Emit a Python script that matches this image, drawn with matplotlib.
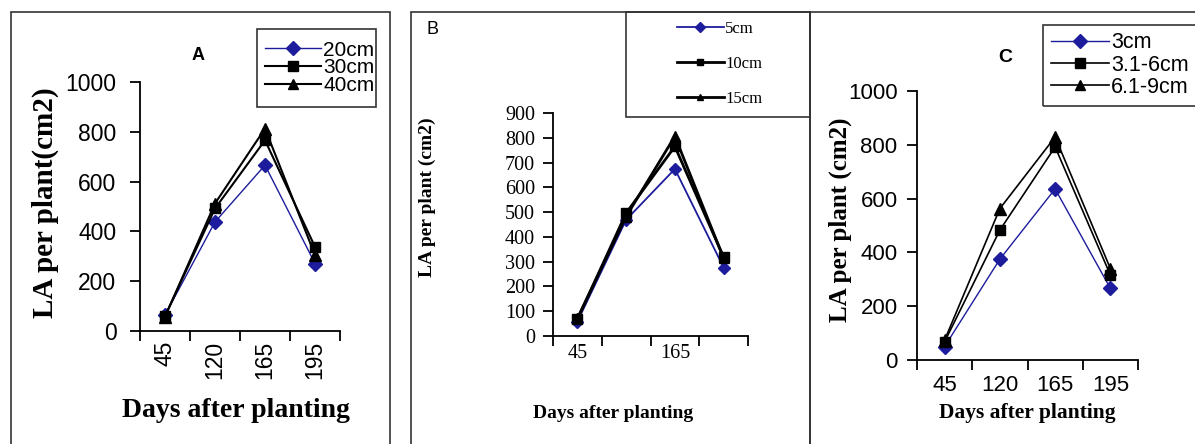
import matplotlib
matplotlib.use("Agg")
import matplotlib.pyplot as plt
from matplotlib.patches import Rectangle
from matplotlib.lines import Line2D

W, H = 1195, 444

days = ["45", "120", "165", "195"]
days_b = ["45", "", "165", ""]

# panel A: row spacing
a_labels = ["20cm", "30cm", "40cm"]
a_20 = [64, 438, 666, 271]
a_30 = [60, 492, 766, 338]
a_40 = [57, 512, 813, 305]

# panel B: plant spacing
b_labels = ["5cm", "10cm", "15cm"]
b_5 = [58, 469, 674, 276]
b_10 = [67, 496, 765, 318]
b_15 = [71, 482, 806, 314]

# panel C: sett size
c_labels = ["3cm", "3.1-6cm", "6.1-9cm"]
c_3 = [50, 375, 636, 266]
c_36 = [68, 483, 792, 316]
c_69 = [74, 563, 829, 340]

BLUE = "#1c1c9c"
SANS = "Liberation Sans"
SERIF = "Liberation Serif"

fig = plt.figure(figsize=(W / 100, H / 100), dpi=100)


def fx(x):
    return x / W


def fy(y):
    return 1 - y / H


def px_axes(l, t, r, b):
    return fig.add_axes([fx(l), fy(b), fx(r - l), (b - t) / H])


def frame(l, t, r, b):
    fig.add_artist(Rectangle((fx(l), fy(b)), fx(r - l), (b - t) / H,
                             transform=fig.transFigure, fill=False,
                             edgecolor="#333333", linewidth=1.2))


def setup(ax, ymax, ystep, labels, tfont, tsize, ypad, xpad, rot=0):
    n = len(labels)
    x = list(range(n))
    ax.set_xlim(-0.5, n - 0.5)
    ax.set_ylim(0, ymax)
    ax.set_yticks(range(0, ymax + 1, ystep))
    ax.set_xticks([i - 0.5 for i in range(n + 1)])
    ax.set_xticklabels([])
    ax.set_xticks(x, minor=True)
    ax.set_xticklabels(labels, minor=True, rotation=rot,
                       family=tfont, fontsize=tsize)
    ax.tick_params(axis="x", which="minor", length=0, pad=xpad)
    ax.tick_params(axis="x", which="major", length=7, width=1.3)
    ax.tick_params(axis="y", length=7, width=1.3, pad=ypad)
    for t in ax.get_yticklabels():
        t.set_family(tfont)
        t.set_fontsize(tsize)
    for s in ["top", "right"]:
        ax.spines[s].set_visible(False)
    for s in ["left", "bottom"]:
        ax.spines[s].set_linewidth(1.3)
    ax.patch.set_alpha(0)
    return x


def handles(lw_b, lw_k, ms):
    return [Line2D([], [], color=BLUE, lw=lw_b, marker="D", ms=ms),
            Line2D([], [], color="black", lw=lw_k, marker="s", ms=ms),
            Line2D([], [], color="black", lw=lw_k, marker="^", ms=ms)]


# outer frames
frame(11, 12, 390, 460)
frame(411, 12, 810, 460)
frame(810, 12, 1210, 460)

# ---- A ----
ax = px_axes(140, 82, 340, 331)
x = setup(ax, 1000, 200, days, SANS, 16.5, 10, 7, rot=90)
ax.plot(x, a_20, color=BLUE, lw=1.0, marker="D", ms=7.5)
ax.plot(x, a_30, color="black", lw=1.5, marker="s", ms=7.5)
ax.plot(x, a_40, color="black", lw=1.5, marker="^", ms=8.5)
fig.text(fx(45), fy(203), "LA per plant(cm2)", rotation=90, ha="center",
         va="center", family=SERIF, weight="bold", fontsize=21)
fig.text(fx(236), fy(410), "Days after planting", ha="center", va="center",
         family=SERIF, weight="bold", fontsize=20)
fig.text(fx(198), fy(55), "A", ha="center", va="center", family=SANS,
         weight="bold", fontsize=13)
frame(257, 29, 376, 107)
fig.legend(handles(1.0, 1.5, 7), a_labels, loc="center left",
           bbox_to_anchor=(fx(265), fy(68)), frameon=False, borderpad=0,
           borderaxespad=0, handlelength=2.7, handletextpad=0.1,
           labelspacing=-0.05, prop={"family": SANS, "size": 15})

# ---- B ----
ax = px_axes(553, 113, 748, 336)
x = setup(ax, 900, 100, days_b, SERIF, 14.5, 6, 6)
ax.plot(x, b_5, color=BLUE, lw=1.3, marker="D", ms=6.5)
ax.plot(x, b_10, color="black", lw=2.0, marker="s", ms=7.5)
ax.plot(x, b_15, color="black", lw=2.0, marker="^", ms=7.5)
fig.text(fx(427), fy(197), "LA per plant (cm2)", rotation=90, ha="center",
         va="center", family=SERIF, weight="bold", fontsize=14)
fig.text(fx(613), fy(413), "Days after planting", ha="center", va="center",
         family=SERIF, weight="bold", fontsize=14)
fig.text(fx(432), fy(30), "B", ha="center", va="center", family=SANS,
         fontsize=13)
frame(626, 12, 810, 117)
fig.legend(handles(1.3, 2.0, 5), b_labels, loc="center left",
           bbox_to_anchor=(fx(677), fy(64)), frameon=False, borderpad=0,
           borderaxespad=0, handlelength=2.8, handletextpad=0.1,
           labelspacing=1.15, prop={"family": SERIF, "size": 12})

# ---- C ----
ax = px_axes(917, 91, 1138, 360)
x = setup(ax, 1000, 200, days, SANS, 16, 7, 11)
ax.plot(x, c_3, color=BLUE, lw=1.0, marker="D", ms=7.5)
ax.plot(x, c_36, color="black", lw=1.2, marker="s", ms=7.5)
ax.plot(x, c_69, color="black", lw=1.2, marker="^", ms=8.5)
fig.text(fx(840), fy(220), "LA per plant (cm2)", rotation=90, ha="center",
         va="center", family=SERIF, weight="bold", fontsize=18)
fig.text(fx(1027), fy(413), "Days after planting", ha="center",
         va="center", family=SERIF, weight="bold", fontsize=15.5)
fig.text(fx(1005), fy(57), "C", ha="center", va="center", family=SANS,
         weight="bold", fontsize=14)
frame(1043, 25, 1210, 106)
fig.legend(handles(1.0, 1.2, 7), c_labels, loc="center left",
           bbox_to_anchor=(fx(1051), fy(65)), frameon=False, borderpad=0,
           borderaxespad=0, handlelength=2.7, handletextpad=0.1,
           labelspacing=0.05, prop={"family": SANS, "size": 15.5})

fig.savefig("out.png", dpi=100)
